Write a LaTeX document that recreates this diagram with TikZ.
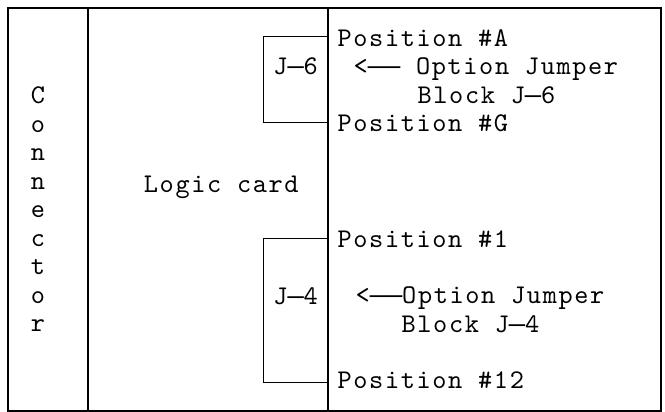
\documentclass[tikz,border=0pt]{standalone}
\usepackage{fontspec}
\newfontfamily\mono{lmmono10-regular.otf}[LetterSpace=6]
\newfontfamily\dashfont{Liberation Mono}
\newcommand{\dsh}{{\dashfont —}}
\begin{document}
\begin{tikzpicture}[x=1pt,y=-1pt,line width=1.3pt,
  lbl/.style={font=\mono\fontsize{27}{28.5}\selectfont,inner sep=0pt,anchor=base west},
  ltr/.style={font=\mono\fontsize{27}{28.5}\selectfont,inner sep=0pt,anchor=base}]
\useasboundingbox (0,0) rectangle (665,412);
% frame
\coordinate (tl) at (8,8);
\coordinate (br) at (661,411);
\draw (tl) rectangle (br);
\draw (88,8) -- (88,411);
\draw (328,8) -- (328,411);
% jumper blocks
\draw (328,36.7) -- (263.3,36.7) -- (263.3,122.7) -- (328,122.7);
\draw (328,238.7) -- (263.3,238.7) -- (263.3,382.3) -- (328,382.3);
% texts
\node[lbl] (pa) at (337,46.7) {Position \#A};
\node[lbl] (arr6) at (353,75) {<\dsh\dsh{} Option Jumper};
\node[lbl] (blk6) at (417,103) {Block J\dsh6};
\node[lbl] (pg) at (337,131.5) {Position \#G};
\node[lbl] (j6) at (272.7,75) {J\dsh6};
\node[lbl] (logic) at (143.3,192.3) {Logic card};
\node[lbl] (p1) at (337,247.3) {Position \#1};
\node[lbl] (arr4) at (355,303.3) {<\dsh\dsh Option Jumper};
\node[lbl] (blk4) at (401,332) {Block J\dsh4};
\node[lbl] (p12) at (337,388.3) {Position \#12};
\node[lbl] (j4) at (272.7,304) {J\dsh4};
\foreach \ch [count=\i] in {C,o,n,n,e,c,t,o,r}
  \node[ltr] (c\i) at ({38},{104+28.46*(\i-1)}) {\ch};
\end{tikzpicture}
\end{document}
